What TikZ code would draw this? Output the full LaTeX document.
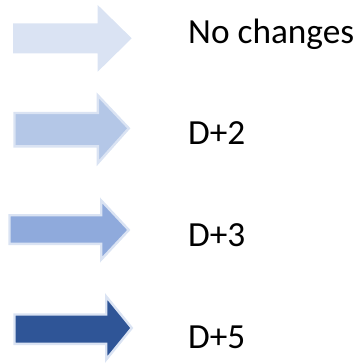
\documentclass[tikz,border=0pt]{standalone}
\usepackage{fontspec}
\setmainfont{Carlito}
\usetikzlibrary{positioning}

\definecolor{pale}{HTML}{DAE3F3}
\definecolor{light}{HTML}{B4C7E7}
\definecolor{mid}{HTML}{8FAADC}
\definecolor{dark}{HTML}{2F5597}

\tikzset{
  shaft/.style={draw=pale, line width=2.4pt, line join=miter},
  label/.style={anchor=base west, inner sep=0pt, font=\fontsize{35.3}{40}\selectfont}
}

\begin{document}
\begin{tikzpicture}[x=1pt,y=-1pt]
\useasboundingbox (0,0) rectangle (362,363);
% arrows
\fill[pale] (13,23.3) -- (97.7,23.3) -- (97.7,5) -- (131.7,38.3) -- (97.7,71.7) -- (97.7,53.3) -- (13,53.3) -- cycle;
\filldraw[shaft, fill=light] (14.5,113) -- (97.9,113) -- (97.9,95.5) -- (128.8,128.3) -- (97.9,163) -- (97.9,146.4) -- (14.5,146.4) -- cycle;
\filldraw[shaft, fill=mid] (9.5,215.2) -- (101.2,215.2) -- (101.2,200.5) -- (128.8,230) -- (101.2,259.5) -- (101.2,243.8) -- (9.5,243.8) -- cycle;
\filldraw[shaft, fill=dark] (14.5,314.5) -- (106.2,314.5) -- (106.2,296.5) -- (131.8,328) -- (106.2,359.5) -- (106.2,343.8) -- (14.5,343.8) -- cycle;
% labels
\node[label] (nochg) at (188,43.3) {No changes};
\node[label] (dtwo) at (188,145) {D+2};
\node[label] (dthree) at (188,246.6) {D+3};
\node[label] (dfive) at (188,348.2) {D+5};
\end{tikzpicture}
\end{document}
